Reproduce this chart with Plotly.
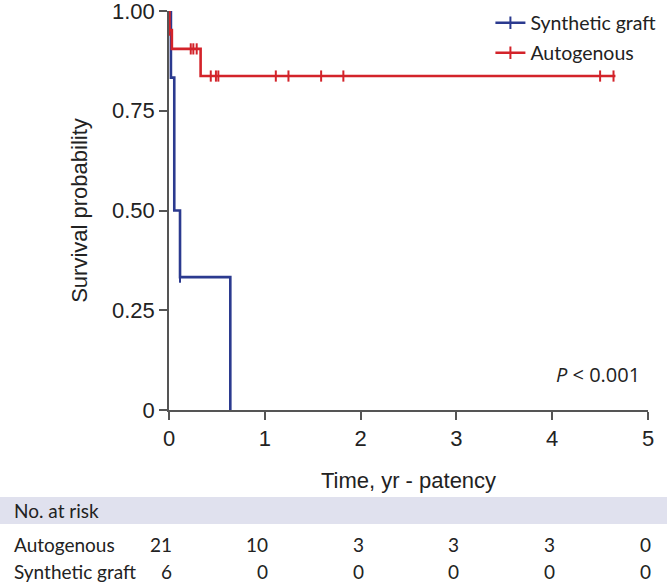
import plotly.graph_objects as go

# Kaplan-Meier step points (time in years, survival probability)
auto_time = [0, 0.005, 0.03, 0.33, 4.66]
auto_surv = [1.0, 0.952, 0.905, 0.837, 0.837]
auto_cens_time = [0.005, 0.227, 0.254, 0.289, 0.436, 0.49, 0.515, 1.115, 1.247, 1.588, 1.82, 4.50, 4.64]
auto_cens_surv = [0.952, 0.905, 0.905, 0.905, 0.837, 0.837, 0.837, 0.837, 0.837, 0.837, 0.837, 0.837, 0.837]

syn_time = [0, 0.02, 0.055, 0.115, 0.64]
syn_surv = [1.0, 0.833, 0.5, 0.333, 0.0]
syn_cens_time = [0.115]
syn_cens_surv = [0.333]

# number at risk table
risk_times = [0, 1, 2, 3, 4, 5]
risk_auto = [21, 10, 3, 3, 3, 0]
risk_syn = [6, 0, 0, 0, 0, 0]

BLUE = "#2b3a8f"
RED = "#d3232a"
TXT = "#222222"
AX_FONT = "Liberation Sans"
TBL_FONT = "Lato"
PLOT_W, PLOT_H = 479, 399  # plot area in pixels, used to place table text

fig = go.Figure()

groups = [
    ("Synthetic graft", syn_time, syn_surv, syn_cens_time, syn_cens_surv, BLUE, "legend"),
    ("Autogenous", auto_time, auto_surv, auto_cens_time, auto_cens_surv, RED, "legend2"),
]
for name, t, s, ct, cs, col, leg in groups:
    fig.add_trace(go.Scatter(x=t, y=s, mode="lines", line=dict(color=col, width=2.6, shape="hv"),
                             showlegend=False, cliponaxis=False, hoverinfo="skip"))
    fig.add_trace(go.Scatter(x=ct, y=cs, mode="markers", cliponaxis=False, showlegend=False,
                             marker=dict(symbol="line-ns", size=8, color=col, line=dict(color=col, width=2))))
    # legend proxy, one legend box per entry so the spacing can be matched
    fig.add_trace(go.Scatter(x=[None], y=[None], mode="lines+markers", name=name, legend=leg,
                             line=dict(color=col, width=2.6),
                             marker=dict(symbol="line-ns", size=9, color=col, line=dict(color=col, width=2))))

# header band of the risk table
fig.add_shape(type="rect", xref="paper", yref="paper", x0=-169 / PLOT_W, x1=498 / PLOT_W,
              y0=-114 / PLOT_H, y1=-87 / PLOT_H, fillcolor="#e0e1ee", line_width=0, layer="below")

fig.add_annotation(text="No. at risk", xref="paper", yref="paper", x=-157 / PLOT_W, y=-100 / PLOT_H,
                   xanchor="left", yanchor="middle", showarrow=False,
                   font=dict(family=TBL_FONT, size=19, color=TXT))
for label, vals, yp in [("Autogenous", risk_auto, -134), ("Synthetic graft", risk_syn, -161)]:
    fig.add_annotation(text=label, xref="paper", yref="paper", x=-157 / PLOT_W, y=yp / PLOT_H,
                       xanchor="left", yanchor="middle", showarrow=False,
                       font=dict(family=TBL_FONT, size=19, color=TXT))
    for t, v in zip(risk_times, vals):
        fig.add_annotation(text=str(v), xref="x", yref="paper", x=t, y=yp / PLOT_H, xshift=5,
                           xanchor="right", yanchor="middle", showarrow=False,
                           font=dict(family=TBL_FONT, size=19, color=TXT))

fig.add_annotation(text="<i>P</i> < 0.001", xref="paper", yref="paper", x=1 - 6 / PLOT_W, y=36 / PLOT_H,
                   xanchor="right", yanchor="middle", showarrow=False,
                   font=dict(family="Open Sans", size=20, color=TXT))

leg_style = dict(xanchor="left", yanchor="middle", bgcolor="rgba(0,0,0,0)",
                 font=dict(family=TBL_FONT, size=19.5, color=TXT), itemwidth=30)

fig.update_layout(
    width=667, height=584,
    margin=dict(l=169, r=19, t=11, b=174, autoexpand=False),
    paper_bgcolor="white", plot_bgcolor="white",
    font=dict(family=AX_FONT, size=22, color=TXT),
    legend=dict(x=0.671, y=1 - 12 / PLOT_H, **leg_style),
    legend2=dict(x=0.671, y=1 - 42 / PLOT_H, **leg_style),
    xaxis=dict(range=[0, 5], tickvals=[0, 1, 2, 3, 4, 5], showgrid=False, zeroline=False,
               showline=True, linecolor="#555555", linewidth=1.5, ticks="outside", ticklen=8,
               tickcolor="#555555", tickwidth=1.5, tickfont=dict(size=22), ticklabeloverflow="allow",
               title=dict(text="Time, yr - patency", font=dict(size=22), standoff=22)),
    yaxis=dict(range=[0, 1], tickvals=[0, 0.25, 0.5, 0.75, 1.0],
               ticktext=["0", "0.25", "0.50", "0.75", "1.00"], showgrid=False, zeroline=False,
               showline=True, linecolor="#555555", linewidth=1.5, ticks="outside", ticklen=8,
               tickcolor="#555555", tickwidth=1.5, tickfont=dict(size=22), ticklabeloverflow="allow",
               title=dict(text="Survival probability", font=dict(size=22), standoff=18)),
)

# drop the default 8px page margin so the figure sits at the window's top-left corner
fig.write_html("out.html", config={"displayModeBar": False},
               post_script="document.body.style.margin='0';")
